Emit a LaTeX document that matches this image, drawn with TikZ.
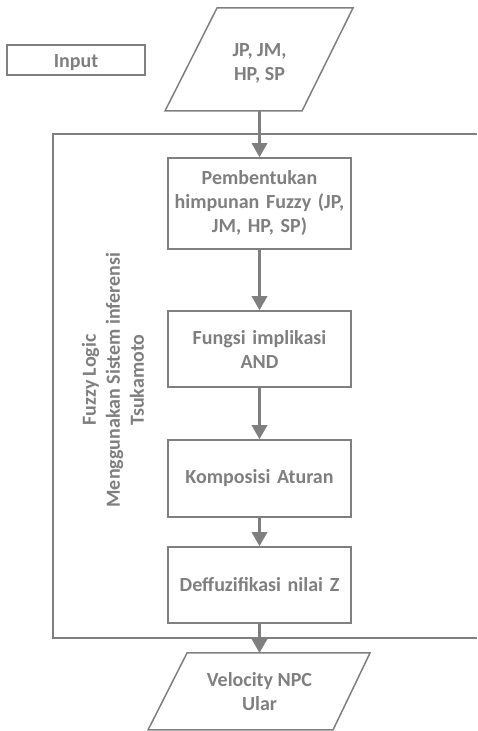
\documentclass[tikz,border=0pt]{standalone}
\usepackage{fontspec}
\setmainfont{Carlito}
\usetikzlibrary{arrows.meta}
\definecolor{ink}{HTML}{7F7F7F}
\begin{document}
\begin{tikzpicture}[x=1pt,y=1pt,
  every node/.style={font=\fontsize{20}{24}\selectfont\bfseries, text=ink},
  procbox/.style={draw=ink, line width=1.5pt, minimum width=183pt, align=center, text width=180pt, inner sep=0pt},
  flow/.style={draw=ink, line width=3pt, -{Triangle[length=14pt,width=15pt]}},
  shapeline/.style={draw=ink, line width=1.5pt}]
\useasboundingbox (0,0) rectangle (477,731);
% input label
\draw[shapeline] (7,656) rectangle (145,686);
\node (lbl) at (76,668) {Input};
% top parallelogram
\draw[shapeline] (165,620) -- (217,723) -- (353,723) -- (302,620) -- cycle;
\node[align=center] (in) at (259.5,667.5) {JP, JM,\\HP, SP};
\coordinate (inb) at (259.5,620);
% frame
\draw[shapeline] (477,597) -- (53,597) -- (53,93) -- (477,93);
% process boxes
\node[procbox, minimum height=91pt] (b1) at (259.5,527.5) {Pembentukan\\himpunan Fuzzy (JP,\\JM, HP, SP)};
\node[procbox, minimum height=76pt] (b2) at (259.5,382) {Fungsi implikasi\\AND};
\node[procbox, minimum height=77pt] (b3) at (259.5,252.5) {Komposisi Aturan};
\node[procbox, minimum height=76pt] (b4) at (259.5,146) {Deffuzifikasi nilai Z};
% output parallelogram
\draw[shapeline] (148,1) -- (187,78) -- (370,78) -- (333,1) -- cycle;
\node[align=center] (out) at (259.5,39.5) {Velocity NPC\\Ular};
\coordinate (outt) at (259.5,78);
% side label
\node[rotate=90, align=center] (side) at (113,351) {Fuzzy Logic\\Menggunakan Sistem inferensi\\Tsukamoto};
% connectors
\draw[flow] (inb) -- (b1.north);
\draw[flow] (b1.south) -- (b2.north);
\draw[flow] (b2.south) -- (b3.north);
\draw[flow] (b3.south) -- (b4.north);
\draw[flow] (b4.south) -- (outt);
\end{tikzpicture}
\end{document}
